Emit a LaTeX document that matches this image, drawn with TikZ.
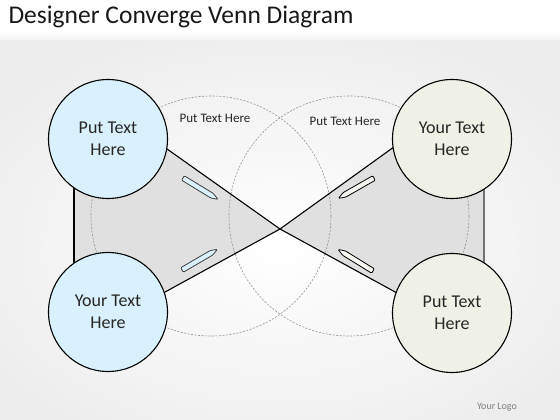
\documentclass[tikz,border=0pt]{standalone}
\usepackage{fontspec}
\setmainfont{Carlito}
\definecolor{cBlue}{HTML}{D9F1FC}
\definecolor{cCream}{HTML}{EFF1E6}
\definecolor{cGray}{HTML}{E0E0E0}
\definecolor{cBg}{HTML}{EDEDED}
\tikzset{
  bigcirc/.style={circle, draw=black, line width=1.1pt, minimum size=119pt, inner sep=0pt,
    align=center, font=\fontsize{18}{22}\selectfont, text=black!85},
  bluec/.style={bigcirc, fill=cBlue},
  creamc/.style={bigcirc, fill=cCream},
  venn/.style={draw=gray!85, dash pattern=on 2pt off 1.5pt, line width=0.6pt},
  edgeline/.style={line width=1.1pt, draw=black},
  lbl/.style={font=\fontsize{13}{15}\selectfont, text=black!85},
  bluepencil/.pic={
    \draw[fill=cBlue, draw=black!75, line width=0.8pt, rounded corners=1pt]
      (0,-2.6) -- (34,-2.6) -- (41,0) -- (34,2.6) -- (0,2.6) -- cycle;
  },
  creampencil/.pic={
    \draw[fill=cCream!60!white, draw=black, line width=0.8pt, rounded corners=1pt]
      (0,-2.6) -- (34,-2.6) -- (41,0) -- (34,2.6) -- (0,2.6) -- cycle;
  }
}
\begin{document}
\begin{tikzpicture}[x=1pt,y=-1pt]
\useasboundingbox (0,0) rectangle (560,420);
% background
\shade[inner color=white, outer color=cBg] (-60,20) rectangle (620,470);
\fill[white] (0,0) rectangle (560,31);
\shade[top color=white, bottom color=cBg!70!white] (0,31) rectangle (560,40);
% title
\node[anchor=west, font=\fontsize{25.5}{28}\selectfont, text=black!90] (title) at (5,17) {Designer Converge Venn Diagram};
% triangles (outer corners hidden inside the circles)
\coordinate (apex) at (280,229);
\coordinate (lt) at (110,108.6);
\coordinate (lt2) at (74,139);
\coordinate (lb2) at (74,312);
\coordinate (lb) at (110,322.2);
\coordinate (rt) at (450,106.6);
\coordinate (rt2) at (484,139);
\coordinate (rb2) at (484,313);
\coordinate (rb) at (450,322);
\fill[cGray] (apex) -- (lt) -- (lt2) -- (lb2) -- (lb) -- cycle;
\fill[cGray] (apex) -- (rt) -- (rt2) -- (rb2) -- (rb) -- cycle;
% dashed venn circles
\draw[venn] (211,216) circle[radius=120];
\draw[venn] (349,216) circle[radius=120];
% edges
\draw[edgeline] (lt) -- (apex) -- (lb);
\draw[edgeline] (lt2) -- (lb2);
\draw[edgeline] (rt) -- (apex) -- (rb);
\draw[line width=1.1pt, draw=black!55] (rt2) -- (rb2);
% big circles
\node[bluec] (tl) at (108,139) {Put Text\\Here};
\node[bluec] (bl) at (108,312) {Your Text\\Here};
\node[creamc] (tr) at (452,139) {Your Text\\Here};
\node[creamc] (br) at (452,313) {Put Text\\Here};
% pencils
\pic[rotate=-31.4] at (183,178) {bluepencil};
\pic[rotate=30.3] at (182,270) {bluepencil};
\pic[rotate=209.7] at (374,178) {creampencil};
\pic[rotate=148.3] at (373,271) {creampencil};
% labels
\node[lbl] (l1) at (215,118) {Put Text Here};
\node[lbl] (l2) at (345,121) {Put Text Here};
% logo
\node[font=\fontsize{10}{12}\selectfont, text=black!50] (logo) at (497,407) {Your Logo};
\end{tikzpicture}
\end{document}
